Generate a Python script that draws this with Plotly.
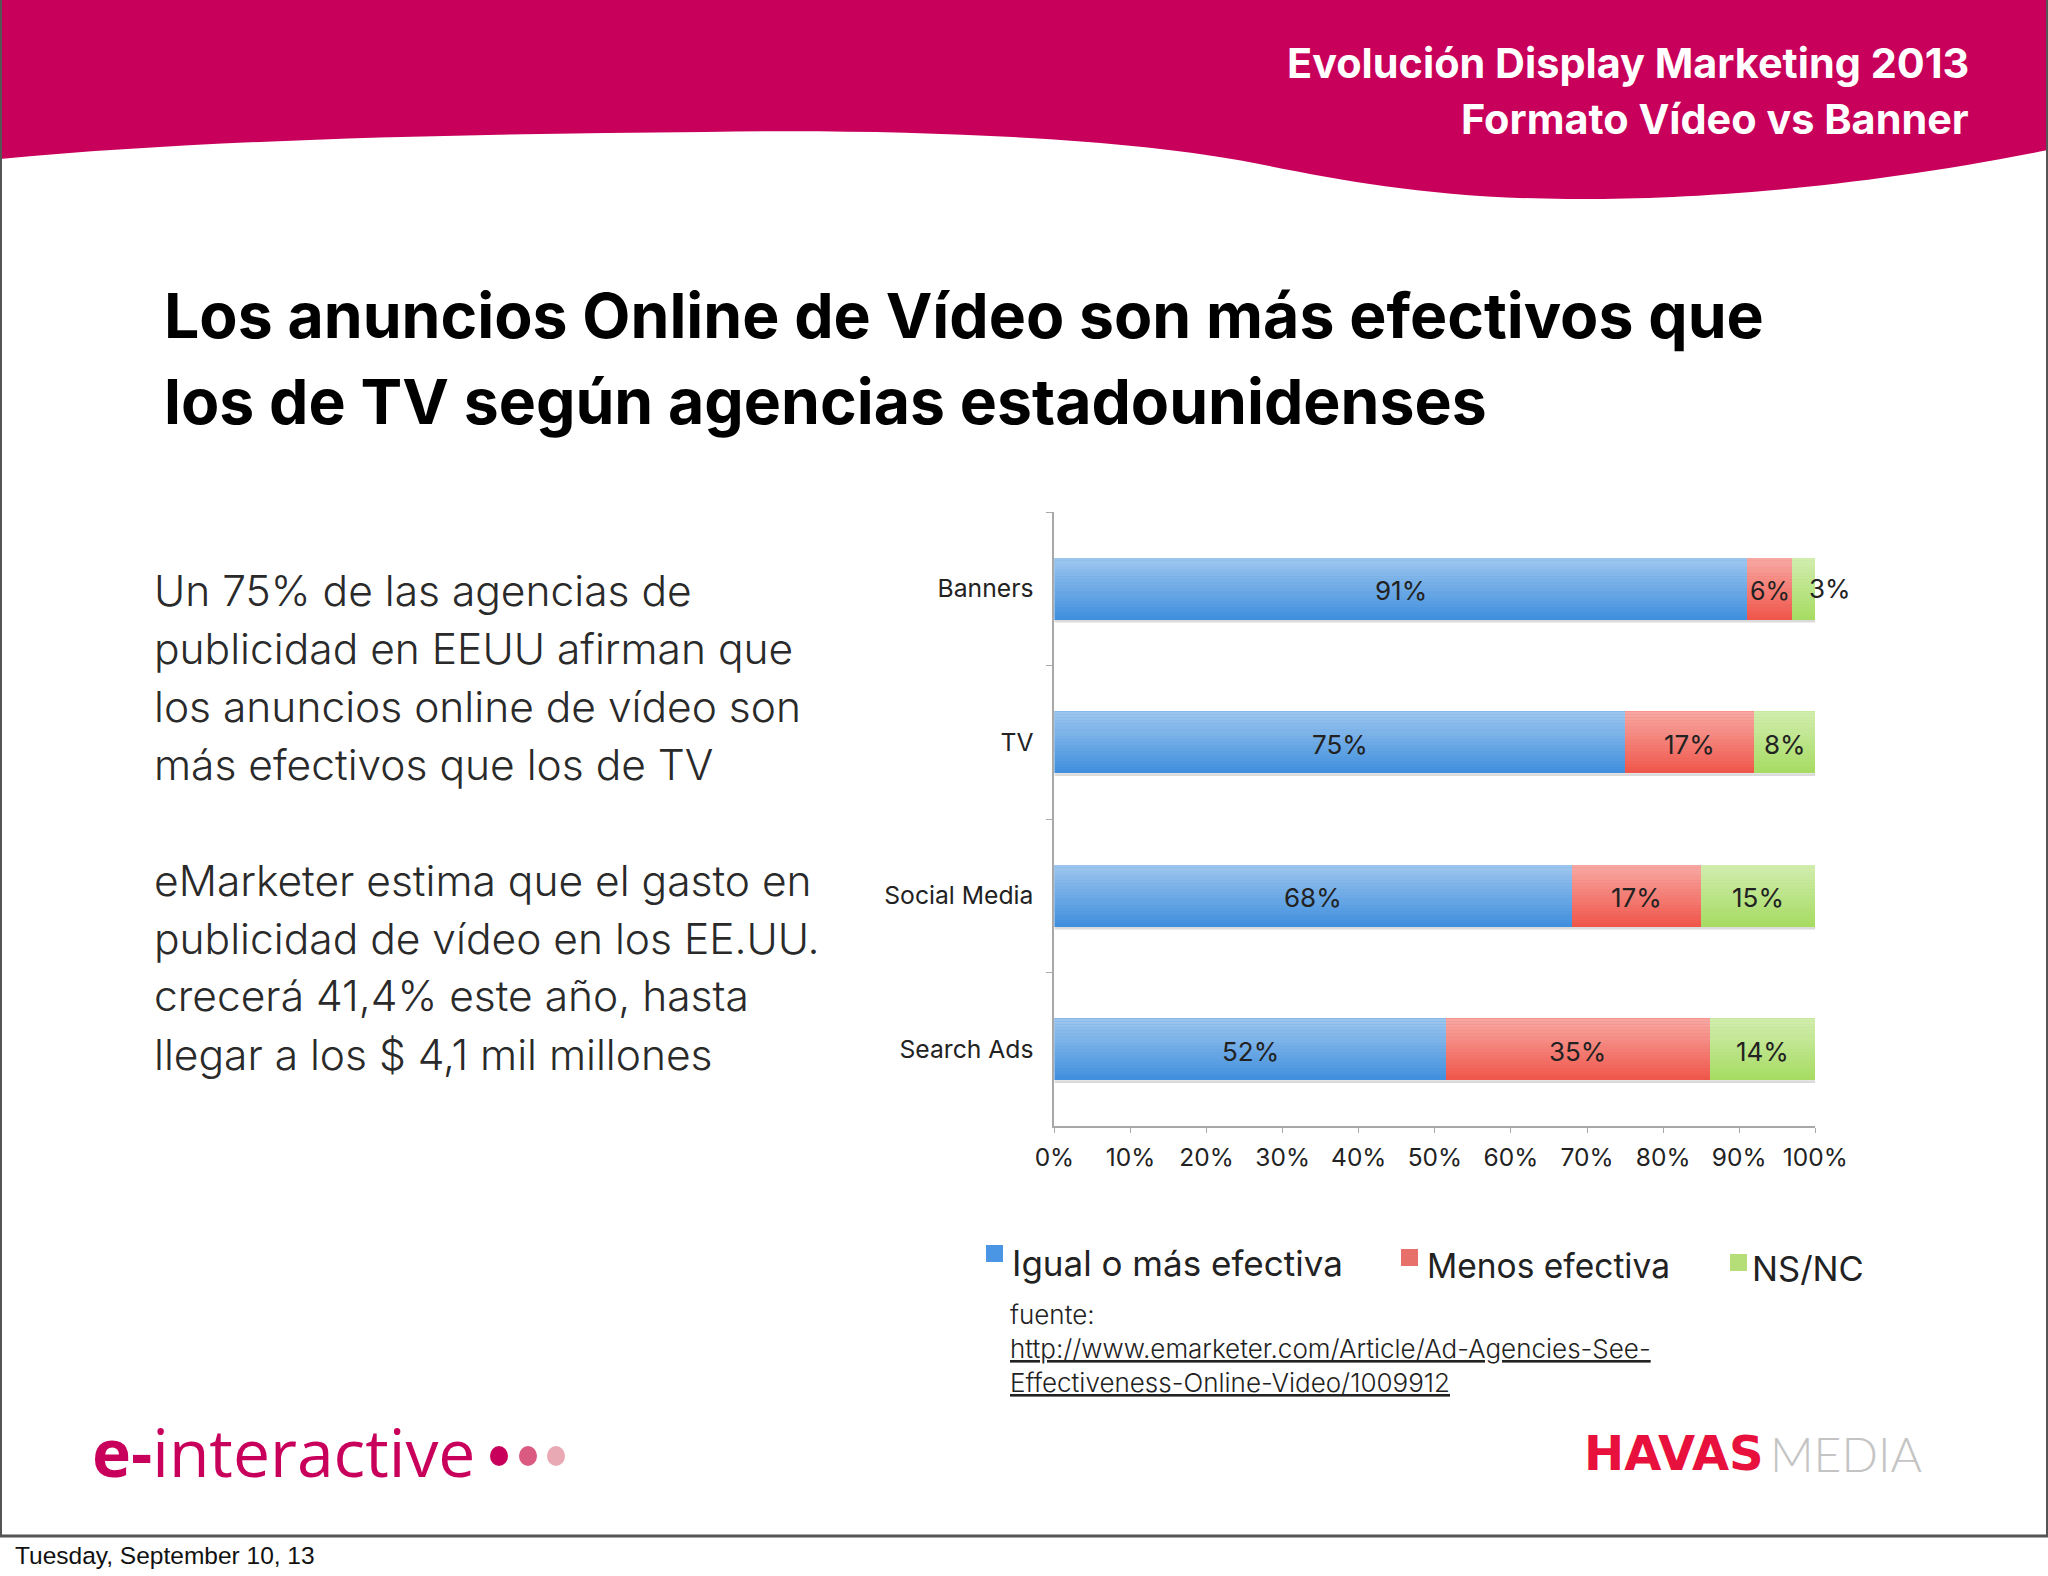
import plotly.graph_objects as go

W, H = 2048, 1576

categories = ["Banners", "TV", "Social Media", "Search Ads"]
igual = [91, 75, 68, 52]
menos = [6, 17, 17, 35]
nsnc = [3, 8, 15, 14]
series_names = ["Igual o más efectiva", "Menos efectiva", "NS/NC"]
series_colors = ["#3F8FDE", "#F0554A", "#A6DC62"]
x_ticks = list(range(0, 101, 10))
header_lines = ["Evolución Display Marketing 2013", "Formato Vídeo vs Banner"]
title_lines = ["Los anuncios Online de Vídeo son más efectivos que",
               "los de TV según agencias estadounidenses"]
body_lines = ["Un 75% de las agencias de", "publicidad en EEUU afirman que",
              "los anuncios online de vídeo son", "más efectivos que los de TV", "",
              "eMarketer estima que el gasto en", "publicidad de vídeo en los EE.UU.",
              "crecerá 41,4% este año, hasta", "llegar a los $ 4,1 mil millones"]
source_lines = ["fuente:", "<u>http://www.emarketer.com/Article/Ad-Agencies-See-</u>",
                "<u>Effectiveness-Online-Video/1009912</u>"]
footer = "Tuesday, September 10, 13"

series = [igual, menos, nsnc]
fig = go.Figure()
for name, vals, col in zip(series_names, series, series_colors):
    fig.add_trace(go.Bar(name=name, y=categories, x=vals, orientation="h",
                         marker=dict(color=col, line=dict(width=0)), showlegend=False))


def px(x):
    return x / W


def py(y):
    return 1 - y / H


annotations = []


def label(text, x, y, size, color="#222222", anchor="left", family="Inter", weight=None):
    annotations.append(dict(text=text, x=px(x), y=py(y), xref="paper", yref="paper",
                            xanchor=anchor, yanchor="middle", showarrow=False,
                            font=dict(size=size, color=color, family=family, weight=weight)))


shapes = []
# header band
pts = "M0,0 L2048,0 L2048,150 C1850,190 1680,200 1567,199 C1430,198 1340,180 1254,163 C1130,138 900,128 705,132 C450,134 200,140 0,159 Z"
out = []
for tok in pts.split():
    head = tok[0] if tok[0].isalpha() else ""
    t = tok[len(head):]
    if not t:
        out.append(head)
        continue
    a, b = t.split(",")
    out.append(f"{head}{px(float(a)):.5f},{py(float(b)):.5f}")
shapes.append(dict(type="path", path=" ".join(out), xref="paper", yref="paper",
                   fillcolor="#C9005B", line=dict(width=0), layer="below"))
# frame
for x0, y0, x1, y1, w in [(1, 0, 1, 1535, 2), (2047, 0, 2047, 1535, 2), (0, 1536, 2048, 1536, 3)]:
    shapes.append(dict(type="line", x0=px(x0), x1=px(x1), y0=py(y0), y1=py(y1), xref="paper",
                       yref="paper", line=dict(color="#555555", width=w), layer="below"))

# bar shading and labels
half = 0.2025
strips = 20
for i in range(len(categories)):
    shapes.append(dict(type="rect", xref="x", yref="y", x0=0, x1=100, y0=i + half, y1=i + half + 0.018,
                       fillcolor="rgba(90,90,90,0.22)", line=dict(width=0), layer="below"))
    for s in range(strips):
        a = 0.5 * (1 - (s + 0.5) / strips)
        y0 = i - half + 2 * half * s / strips
        y1 = i - half + 2 * half * (s + 1) / strips
        shapes.append(dict(type="rect", xref="x", yref="y", x0=0, x1=100, y0=y0, y1=y1,
                           fillcolor=f"rgba(255,255,255,{a:.3f})", line=dict(width=0), layer="above"))
    total = sum(v[i] for v in series)
    start = 0
    for v in series:
        share = v[i] / total * 100
        centre = start + share / 2
        start += share
        shift, yshift = 0, -2
        if v[i] == 3:
            centre, shift, yshift = 100, 15, 0
        annotations.append(dict(text=f"{v[i]}%", x=centre, y=i, xref="x", yref="y", xshift=shift,
                                yshift=yshift, showarrow=False,
                                font=dict(size=26 if v[i] != 6 else 25, color="#222222", family="Inter")))

# texts
for t, y in zip(header_lines, [63, 119]):
    label(t, 1971, y, 41.4, "#FFFFFF", "right", "Inter", 700)
for t, y in zip(title_lines, [315, 401]):
    label(t, 161.5, y, 62.5, "#000000", "left", "Inter", 700)
for i, t in enumerate(body_lines):
    if t:
        label(t, 152, 590 + i * 58, 42.5, "#2A2A2A", "left", "Inter", 300)
for t, y in zip(source_lines, [1314, 1348, 1382]):
    label(t, 1008, y, 26, "#222222", "left", "Inter", 300)

# legend
leg = [(986, 1245, "Igual o más efectiva", 1010, 1263, 35), (1401, 1249, "Menos efectiva", 1425, 1266, 33.5),
       (1730, 1254, "NS/NC", 1750, 1268, 34.5)]
for (x0, y0, name, tx, ty, fs), col in zip(leg, ["#4A96E4", "#E8706A", "#B5DE78"]):
    shapes.append(dict(type="rect", xref="paper", yref="paper", x0=px(x0), x1=px(x0 + 17), y0=py(y0),
                       y1=py(y0 + 17), fillcolor=col, line=dict(width=0)))
    label(name, tx, ty, fs, "#222222", "left", "Inter", 400)

# logos
annotations.append(dict(text="<b>e-</b>interactive", x=px(90), y=py(1451), xref="paper", yref="paper",
                        xanchor="left", yanchor="middle", showarrow=False,
                        font=dict(size=66, color="#C9005B", family="Open Sans")))
for cx, col in zip([499, 528, 556], ["#C9005B", "#DB5A82", "#E8A9B5"]):
    shapes.append(dict(type="circle", xref="paper", yref="paper", x0=px(cx - 9), x1=px(cx + 9),
                       y0=py(1446), y1=py(1466), fillcolor=col, line=dict(width=0)))
label("HAVAS", 1582, 1453, 48, "#E8103C", "left", "DejaVu Sans", 700)
label("MEDIA", 1768, 1453, 48, "#C4C4C4", "left", "Lato", 300)
label(footer, 13, 1555, 24.5, "#111111", "left", "Liberation Sans")

fig.update_layout(
    width=W, height=H, margin=dict(l=0, r=0, t=0, b=0, autoexpand=False), autosize=False,
    paper_bgcolor="white", plot_bgcolor="white",
    barmode="stack", barnorm="percent", bargap=0.595,
    shapes=shapes, annotations=annotations, hovermode=False,
    xaxis=dict(domain=[px(1054.4), px(1815.3)], range=[0, 100], tickmode="array", tickvals=x_ticks,
               ticktext=[f"{v}%" for v in x_ticks], showgrid=False, zeroline=False, showline=True,
               linecolor="#A8A8A8", linewidth=2, ticks="outside", ticklen=5, tickcolor="#A8A8A8",
               ticklabelstandoff=4, tickfont=dict(size=24.5, color="#222222", family="Inter"),
               anchor="y"),
    yaxis=dict(domain=[py(1126), py(512)], range=[3.5, -0.5], type="category",
               categoryorder="array", categoryarray=categories, tickson="boundaries",
               showgrid=False, zeroline=False, showline=True, linecolor="#A8A8A8", linewidth=2,
               ticks="outside", ticklen=6, tickcolor="#A8A8A8", ticklabelstandoff=14,
               tickfont=dict(size=24.7, color="#222222", family="Inter"), anchor="x"),
)
fig.write_html("out.html", config={"displayModeBar": False},
               post_script="document.body.style.margin='0';document.body.style.overflow='hidden';")
